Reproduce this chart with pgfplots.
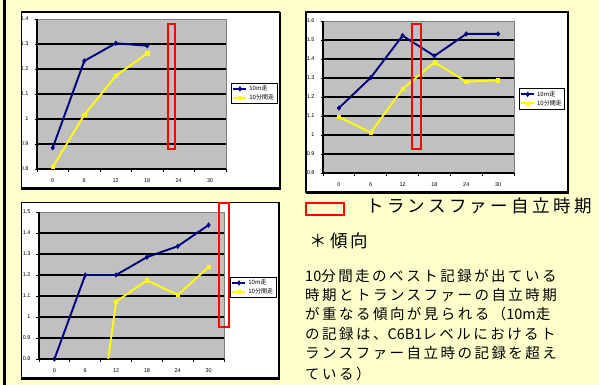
\documentclass[border=0pt]{standalone}
\usepackage{fontspec}
\usepackage{pgfplots}
\usepackage{pgfplotstable}
\pgfplotsset{compat=1.18}
\setmainfont{Liberation Sans}
\newfontfamily\jpfont{Noto Sans CJK JP}
\newfontfamily\jptitle{Noto Sans CJK JP}[LetterSpace=19]
\newfontfamily\jpbody{Noto Sans CJK JP}[LetterSpace=17]

\definecolor{pagebg}{HTML}{FFFFCC}
\definecolor{plotgray}{HTML}{C0C0C0}
\definecolor{plotedge}{HTML}{808080}
\definecolor{navyline}{HTML}{000080}
\definecolor{yellowline}{HTML}{FFFF00}
\definecolor{boxred}{HTML}{FF0000}

\newcommand\tickfont{\fontsize{5.5bp}{6bp}\selectfont}
\newcommand\legfont{\jpfont\fontsize{6bp}{7bp}\selectfont}
\newcommand\lat[1]{{\jpfont #1}}

% monthly records (x = index of month 0,6,...,30)
\pgfplotstableread{
x  runA    runB
0  0.885   0.808
1  1.232   1.016
2  1.303   1.172
3  1.293   1.263
}\chartA
\pgfplotstableread{
x  runA    runB
0  1.142   1.095
1  1.302   1.013
2  1.523   1.242
3  1.416   1.383
4  1.532   1.281
5  1.532   1.288
}\chartB
\pgfplotstableread{
x  runA    runB
0  0.800   0
1  1.200   0
2  1.200   1.073
3  1.285   1.175
4  1.337   1.105
5  1.438   1.238
}\chartC

\pgfplotsset{
  excelchart/.style={
    scale only axis,
    anchor=south west,
    axis lines*=left,
    axis line style={-, black, line width=2bp},
    axis background/.style={fill=plotgray, draw=plotedge, line width=0.8bp},
    xmin=-0.5, xmax=5.5,
    xtick={0,...,5},
    xticklabels={0,6,12,18,24,30},
    minor xtick={-0.5,0.5,...,5.5},
    major x tick style={draw=none},
    minor x tick style={black, line width=0.9bp},
    minor tick length=3bp,
    major y tick style={black, line width=0.9bp},
    major tick length=2.5bp,
    tick align=outside,
    ymajorgrids,
    major grid style={black, line width=2bp},
    extra y tick style={grid=none},
    ticklabel style={font=\tickfont},
    xticklabel style={yshift=-4bp},
    yticklabel style={xshift=-2.5bp,
      /pgf/number format/fixed,
      /pgf/number format/precision=1,
      /pgf/number format/assume math mode=true},
    legend style={draw=black, line width=1bp, fill=white, font=\legfont,
      inner xsep=1bp, inner ysep=0.5bp, row sep=-1.5bp,
      cells={anchor=west}},
    legend image code/.code={
      \draw[mark repeat=2, mark phase=2]
        plot coordinates {(0bp,0bp) (6.5bp,0bp) (13bp,0bp)};},
  },
  seriesA/.style={navyline, line width=1.9bp, mark=diamond*, mark size=2.3bp,
    mark options={fill=navyline, line width=0.5bp}},
  seriesB/.style={yellowline, line width=1.9bp, mark=square*, mark size=1.6bp,
    mark options={fill=yellowline, line width=0.5bp}},
}

\begin{document}
\begin{tikzpicture}
\useasboundingbox (0,0) rectangle (599bp,385bp);
\fill[pagebg] (0,0) rectangle (599bp,385bp);
\fill[black] (3bp,0) rectangle (6.3bp,385bp);

% chart frames
\filldraw[fill=white, draw=black, line width=1.5bp] (21.3bp,196.5bp) rectangle (279.7bp,372.8bp);
\draw[black, line width=2.2bp] (279.7bp,372.8bp) -- (279.7bp,196.5bp) -- (21.3bp,196.5bp);
\filldraw[fill=white, draw=black, line width=1.5bp] (305.8bp,192.5bp) rectangle (568.3bp,372.8bp);
\draw[black, line width=2.2bp] (568.3bp,372.8bp) -- (568.3bp,192.5bp) -- (305.8bp,192.5bp);
\filldraw[fill=white, draw=black, line width=1.5bp] (21.3bp,6.5bp) rectangle (279.2bp,182.7bp);
\draw[black, line width=2.2bp] (279.2bp,182.7bp) -- (279.2bp,6.5bp) -- (21.3bp,6.5bp);

% chart 1
\begin{axis}[excelchart,
  at={(37bp,216bp)}, width=189bp, height=150bp,
  ymin=0.8, ymax=1.4,
  ytick={0.8,0.9,1.0,1.1,1.2,1.3}, extra y ticks={1.4},
  legend style={at={(1.0265,0.576)}, anchor=north west}]
\addplot[seriesA] table[x=x, y=runA] {\chartA};
\addlegendentry{10m走}
\addplot[seriesB] table[x=x, y=runB] {\chartA};
\addlegendentry{10分間走}
\end{axis}

% chart 2
\begin{axis}[excelchart,
  at={(323bp,212bp)}, width=191bp, height=152bp,
  ymin=0.8, ymax=1.6,
  ytick={0.8,0.9,1.0,1.1,1.2,1.3,1.4,1.5}, extra y ticks={1.6},
  legend style={at={(1.0246,0.5585)}, anchor=north west}]
\addplot[seriesA] table[x=x, y=runA] {\chartB};
\addlegendentry{10m走}
\addplot[seriesB] table[x=x, y=runB] {\chartB};
\addlegendentry{10分間走}
\end{axis}

% chart 3
\begin{axis}[excelchart,
  at={(39bp,26bp)}, width=185bp, height=147bp,
  ymin=0.8, ymax=1.5,
  ytick={0.8,0.9,1.0,1.1,1.2,1.3,1.4}, extra y ticks={1.5},
  legend style={at={(1.0325,0.56)}, anchor=north west}]
\addplot[seriesA] table[x=x, y=runA] {\chartC};
\addlegendentry{10m走}
\addplot[seriesB] table[x=x, y=runB] {\chartC};
\addlegendentry{10分間走}
\end{axis}

% transfer-independence periods
\begin{scope}[boxred, line width=2bp]
\draw (168bp,236bp) rectangle (175bp,361bp);
\draw (412bp,236bp) rectangle (421bp,361bp);
\draw (219bp,58bp) rectangle (229bp,182bp);
\end{scope}

% key and notes
\draw[boxred, line width=2bp] (306bp,170bp) rectangle (344bp,182bp);
\node[anchor=west, inner sep=0, text height=0.83em, text depth=0.07em,
  font=\jptitle\fontsize{17.5bp}{20bp}\selectfont] at (366bp,176bp) {トランスファー自立時期};
\node[anchor=west, inner sep=0, text height=0.83em, text depth=0.07em,
  font=\jptitle\fontsize{17.5bp}{20bp}\selectfont] at (309bp,141.7bp) {＊傾向};
\begin{scope}[every node/.style={anchor=west, inner sep=0, text height=0.83em,
  text depth=0.07em, font=\jpbody\fontsize{14.5bp}{17bp}\selectfont}]
\node at (305bp,107bp) {\lat{10}分間走のベスト記録が出ている};
\node at (305bp,88.3bp) {時期とトランスファーの自立時期};
\node at (305bp,69bp) {が重なる傾向が見られる（\lat{10m}走};
\node at (305bp,49.5bp) {の記録は、\lat{C6B1}レベルにおけるト};
\node at (305bp,30bp) {ランスファー自立時の記録を超え};
\node at (305bp,9.5bp) {ている）};
\end{scope}
\end{tikzpicture}
\end{document}
